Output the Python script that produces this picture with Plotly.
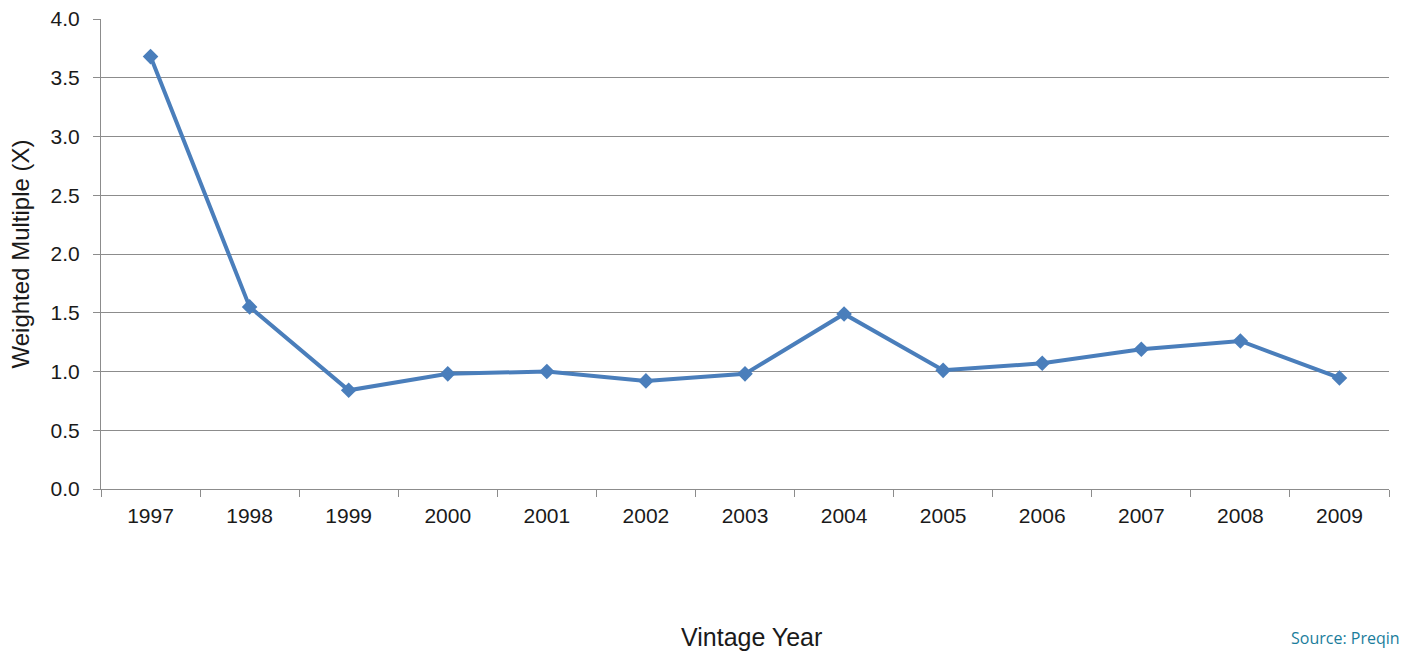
import plotly.graph_objects as go

years = ["1997", "1998", "1999", "2000", "2001", "2002", "2003",
         "2004", "2005", "2006", "2007", "2008", "2009"]
multiples = [3.68, 1.55, 0.84, 0.98, 1.00, 0.92, 0.98,
             1.49, 1.01, 1.07, 1.19, 1.26, 0.945]

line_color = "#4a7ebb"
grid_color = "#8c8c8c"
font_family = "Liberation Sans, Arial, sans-serif"

fig = go.Figure()
fig.add_trace(go.Scatter(
    x=years, y=multiples, mode="lines+markers",
    line=dict(color=line_color, width=4),
    marker=dict(symbol="diamond", size=12, color=line_color),
    showlegend=False, cliponaxis=False,
))

fig.update_layout(
    width=1402, height=655,
    margin=dict(l=101, r=13, t=19, b=166, autoexpand=False),
    paper_bgcolor="white", plot_bgcolor="white",
    font=dict(family=font_family, size=21, color="#1a1a1a"),
)

fig.update_xaxes(
    type="category", tickson="boundaries", range=[-0.5, len(years) - 0.5],
    ticks="outside", ticklen=7, tickcolor=grid_color, tickwidth=1.2,
    showline=True, linecolor=grid_color, linewidth=1.2,
    showgrid=False, tickfont=dict(size=21), ticklabelstandoff=8,
    automargin=False,
)
fig.update_yaxes(
    range=[0, 4], dtick=0.5, tickformat=".1f",
    ticks="outside", ticklen=7, tickcolor=grid_color, tickwidth=1.2,
    showline=True, linecolor=grid_color, linewidth=1.2,
    showgrid=True, gridcolor=grid_color, gridwidth=1.2,
    zeroline=False, tickfont=dict(size=21), ticklabelstandoff=9,
    title=dict(text="Weighted Multiple (X)", font=dict(size=24), standoff=14),
    automargin=False,
)

fig.add_annotation(
    text="Vintage Year", xref="paper", yref="paper",
    x=0.505, y=-0.315, xanchor="center", yanchor="middle",
    showarrow=False, font=dict(size=25, family=font_family, color="#1a1a1a"),
)
fig.add_annotation(
    text="Source: Preqin", xref="paper", yref="paper",
    x=1.01, y=-0.318, xanchor="right", yanchor="middle",
    showarrow=False, font=dict(size=16, family="Open Sans, sans-serif", color="#1a7d9c"),
)

fig.write_html("out.html")
